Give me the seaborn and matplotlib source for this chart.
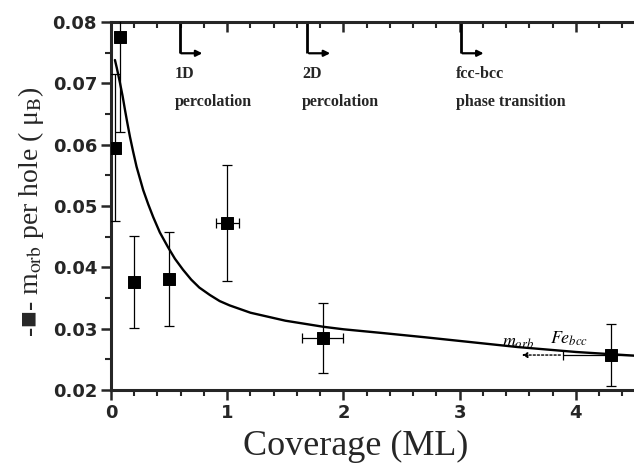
import matplotlib
matplotlib.use("Agg")
import matplotlib.pyplot as plt
import seaborn as sns
import pandas as pd
from matplotlib.ticker import MultipleLocator

# ---- data ----
coverage = [0.034, 0.077, 0.2, 0.5, 1.0, 1.82, 4.3]
m_orb = [0.0595, 0.0775, 0.0376, 0.0381, 0.0472, 0.0285, 0.0257]
m_orb_err = [0.012, 0.0155, 0.0075, 0.0076, 0.0095, 0.0057, 0.005]
cov_err = [0.0, 0.0, 0.0, 0.0, 0.1, 0.18, 0.41]

fit_x = [0.034, 0.05, 0.077, 0.10, 0.12, 0.14, 0.163, 0.19, 0.22, 0.25, 0.277,
         0.32, 0.363, 0.42, 0.49, 0.55, 0.62, 0.69, 0.76, 0.85, 0.935, 1.02,
         1.2, 1.5, 1.83, 2.0, 2.33, 2.7, 3.0, 3.5, 4.0, 4.5]
fit_y = [0.0738, 0.0725, 0.0701, 0.0679, 0.0657, 0.0636, 0.0613, 0.0589, 0.0564,
         0.0544, 0.0526, 0.0503, 0.0482, 0.0457, 0.0433, 0.0414, 0.0396, 0.0380,
         0.0367, 0.0355, 0.0345, 0.0338, 0.0326, 0.0313, 0.0303, 0.0299, 0.0293,
         0.0286, 0.0280, 0.0270, 0.0262, 0.0256]

transitions = ["1D\npercolation", "2D\npercolation", "fcc-bcc\nphase transition"]
transition_x = [0.59, 1.69, 3.01]

pts = pd.DataFrame({"coverage": coverage, "m_orb": m_orb})
fit = pd.DataFrame({"x": fit_x, "y": fit_y})

sns.set_style("ticks")
plt.rcParams["font.family"] = ["Liberation Serif", "DejaVu Sans"]
plt.rcParams["mathtext.fontset"] = "stix"

fig = plt.figure(figsize=(6.34, 4.72), dpi=100)
ax = fig.add_axes([111 / 634, 82 / 472, 523 / 634, 368 / 472])

sns.lineplot(data=fit, x="x", y="y", ax=ax, color="black", lw=1.7, sort=True)
ax.errorbar(coverage, m_orb, yerr=m_orb_err, xerr=cov_err, fmt="none",
            ecolor="black", elinewidth=0.9, capsize=3.5, capthick=0.9, zorder=3)
sns.scatterplot(data=pts, x="coverage", y="m_orb", ax=ax, marker="s", s=75,
                color="black", edgecolor="black", zorder=4, legend=False)

# dotted arrow from bcc point error bar
ax.annotate("", xy=(3.51, m_orb[-1]), xytext=(3.89, m_orb[-1]),
            arrowprops=dict(arrowstyle="-|>", color="black", lw=1.0, ls=(0, (1.5, 1.5)),
                            mutation_scale=8))
ax.text(3.36, 0.0271, r"$m_{orb}$", fontsize=13, color="black")
ax.text(3.78, 0.0275, r"$Fe_{bcc}$", fontsize=13, color="black")

# transition markers at the top
for lbl, tx in zip(transitions, transition_x):
    ax.plot([tx, tx], [0.08, 0.0749], color="black", lw=2.0, solid_capstyle="butt")
    ax.annotate("", xy=(tx + 0.22, 0.0749), xytext=(tx - 0.01, 0.0749),
                arrowprops=dict(arrowstyle="-|>", color="black", lw=1.6, mutation_scale=9))
    ax.text(tx - 0.045, 0.0729, lbl, fontsize=11.5, fontweight="bold",
            va="top", ha="left", linespacing=2.05, family="Liberation Serif")

ax.set_xlim(0, 4.5)
ax.set_ylim(0.02, 0.08)
ax.xaxis.set_major_locator(MultipleLocator(1))
ax.xaxis.set_minor_locator(MultipleLocator(0.2))
ax.yaxis.set_minor_locator(MultipleLocator(0.005))
ax.set_yticks([0.02, 0.03, 0.04, 0.05, 0.06, 0.07, 0.08])
ax.set_yticklabels(["0.02", "0.03", "0.04", "0.05", "0.06", "0.07", "0.08"])

for side in ["left", "bottom", "top"]:
    ax.spines[side].set_linewidth(2.2)
ax.spines["right"].set_visible(False)

ax.tick_params(axis="both", which="major", direction="out", length=7, width=1.8,
               labelsize=13, pad=3)
ax.tick_params(axis="both", which="minor", direction="out", length=4, width=1.5)
ax.tick_params(axis="x", which="both", top=True)
# top ticks inward
for t in ax.xaxis.get_major_ticks() + ax.xaxis.get_minor_ticks():
    t.tick2line.set_marker(3)
for lab in ax.get_xticklabels() + ax.get_yticklabels():
    lab.set_fontfamily("DejaVu Sans")
    lab.set_fontweight("bold")

ax.set_xlabel("Coverage (ML)", fontsize=26, family="Liberation Serif")
ax.xaxis.set_label_coords(0.467, -0.108)
ax.set_ylabel("-\u25a0- m$_{\\rm orb}$ per hole ( \u03bc$_{\\rm B}$)", fontsize=20)
ax.yaxis.set_label_coords(-0.125, 0.484)

fig.savefig("out.png", dpi=100)
